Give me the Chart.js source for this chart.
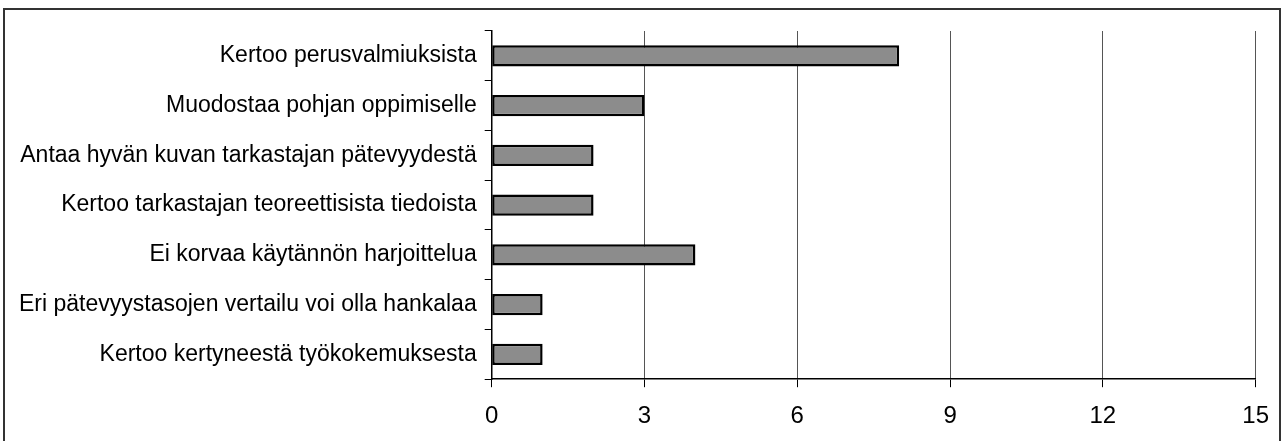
<!DOCTYPE html>
<html>
<head>
<meta charset="utf-8">
<script src="https://cdn.jsdelivr.net/npm/chart.js@4"></script>
<style>
  body { margin: 0; background: #fff; }
  #wrap { position: relative; width: 1284px; height: 441px; overflow: hidden; }
  #frame { position: absolute; left: 3px; top: 8px; width: 1278px; height: 440px; border: 2px solid #333; box-sizing: border-box; }
  canvas { position: absolute; left: 0; top: 0; }
</style>
</head>
<body>
<div id="wrap">
  <div id="frame"></div>
  <canvas id="chartCanvas" width="1284" height="441"></canvas>
</div>
<script>
const categories = [
  "Kertoo perusvalmiuksista",
  "Muodostaa pohjan oppimiselle",
  "Antaa hyvän kuvan tarkastajan pätevyydestä",
  "Kertoo tarkastajan teoreettisista tiedoista",
  "Ei korvaa käytännön harjoittelua",
  "Eri pätevyystasojen vertailu voi olla hankalaa",
  "Kertoo kertyneestä työkokemuksesta"
];
const values = [8, 3, 2, 2, 4, 1, 1];
const xMin = 0, xMax = 15, xStep = 3;

const ctx = document.getElementById("chartCanvas").getContext("2d");
const chart = new Chart(ctx, {
  type: "bar",
  data: {
    labels: categories,
    datasets: [{
      data: values,
      backgroundColor: "#8c8c8c",
      borderColor: "#000",
      borderWidth: 2.5,
      borderSkipped: false,
      barPercentage: 0.43,
      categoryPercentage: 1
    }]
  },
  options: {
    indexAxis: "y",
    responsive: false,
    animation: false,
    layout: { padding: { top: 31, right: 25, bottom: -5, left: 11 } },
    plugins: { legend: { display: false }, tooltip: { enabled: false } },
    scales: {
      x: {
        min: xMin,
        max: xMax,
        ticks: { stepSize: xStep, color: "#000", font: { family: "Liberation Sans", size: 24 }, padding: 15 },
        grid: { color: "#555", lineWidth: 1, tickLength: 8, tickColor: "#000" },
        border: { color: "#000", width: 1.5 }
      },
      y: {
        ticks: { color: "#000", font: { family: "Liberation Sans", size: 23 }, padding: 8 },
        grid: { offset: true, drawOnChartArea: false, tickLength: 7, color: "#000" },
        border: { color: "#000", width: 1.5 }
      }
    }
  }
});
</script>
</body>
</html>
